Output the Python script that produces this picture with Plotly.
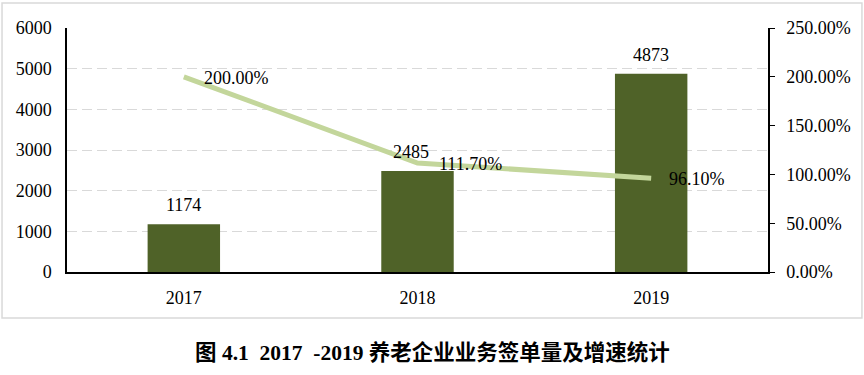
import plotly.graph_objects as go

years = ["2017", "2018", "2019"]
orders = [1174, 2485, 4873]
growth = [2.0, 1.117, 0.961]
growth_labels = ["200.00%", "111.70%", "96.10%"]
caption = "图 4.1  2017  -2019 养老企业业务签单量及增速统计"

serif = "Liberation Serif, Times New Roman, serif"
fs = 18

fig = go.Figure()
fig.add_trace(go.Bar(
    x=years, y=orders, marker=dict(color="#4F6228", line=dict(width=0)),
    width=0.31, name="签单量"))
fig.add_trace(go.Scatter(
    x=years, y=growth, yaxis="y2", mode="lines",
    line=dict(color="#C3D69B", width=5), name="增速"))

annotations = []
bar_xshift = [0, -7, 0]
for i, (v, xs) in enumerate(zip(orders, bar_xshift)):
    annotations.append(dict(x=i, y=v, xref="x", yref="y", text=str(v),
                            showarrow=False, yanchor="middle", yshift=19,
                            xshift=xs,
                            font=dict(family=serif, size=fs, color="black")))
line_xshift = [18, 19, 16]
for i, (g, lab, xs) in enumerate(zip(growth, growth_labels, line_xshift)):
    annotations.append(dict(x=i, y=g, xref="x", yref="y2", text=lab,
                            showarrow=False, xanchor="left", yanchor="middle",
                            xshift=xs, yshift=-1,
                            font=dict(family=serif, size=fs, color="black")))
annotations.append(dict(text="<b>" + caption + "</b>", xref="paper", yref="paper",
                        x=0.521, y=-0.328, showarrow=False, yanchor="middle",
                        font=dict(family="Liberation Serif, Noto Sans CJK SC",
                                  size=21.5, color="black")))

fig.update_layout(
    width=864, height=375,
    margin=dict(l=67, r=96, t=28, b=103),
    plot_bgcolor="white", paper_bgcolor="white",
    showlegend=False,
    font=dict(family=serif, size=fs, color="black"),
    xaxis=dict(type="category", range=[-0.5, 2.5], showline=True,
               linecolor="black", linewidth=1.5,
               tickfont=dict(family=serif, size=fs, color="black"),
               ticks="outside", ticklen=9, tickcolor="rgba(0,0,0,0)",
               showgrid=False),
    yaxis=dict(range=[0, 6000], dtick=1000, showline=True, linecolor="black",
               linewidth=1.5, showgrid=True, gridcolor="#D9D9D9",
               griddash="10px,5px", gridwidth=1, zeroline=False,
               tickfont=dict(family=serif, size=fs, color="black"), ticks="",
               ticklabelstandoff=10, automargin=False),
    yaxis2=dict(range=[0, 2.5], dtick=0.5, overlaying="y", side="right",
                tickformat=".2%", showline=True, linecolor="black",
                linewidth=1.5, showgrid=False, zeroline=False,
                ticks="outside", ticklen=5, tickcolor="black",
                ticklabelstandoff=8, automargin=False,
                tickfont=dict(family=serif, size=fs, color="black")),
    shapes=[dict(type="rect", xref="paper", yref="paper",
                 x0=-0.0927, x1=1.134, y0=-0.1885, y1=1.102,
                 line=dict(color="#D9D9D9", width=1.5), layer="below")],
    annotations=annotations,
)

fig.write_html("out.html", config={"displayModeBar": False},
               post_script="document.body.style.margin='0';")
